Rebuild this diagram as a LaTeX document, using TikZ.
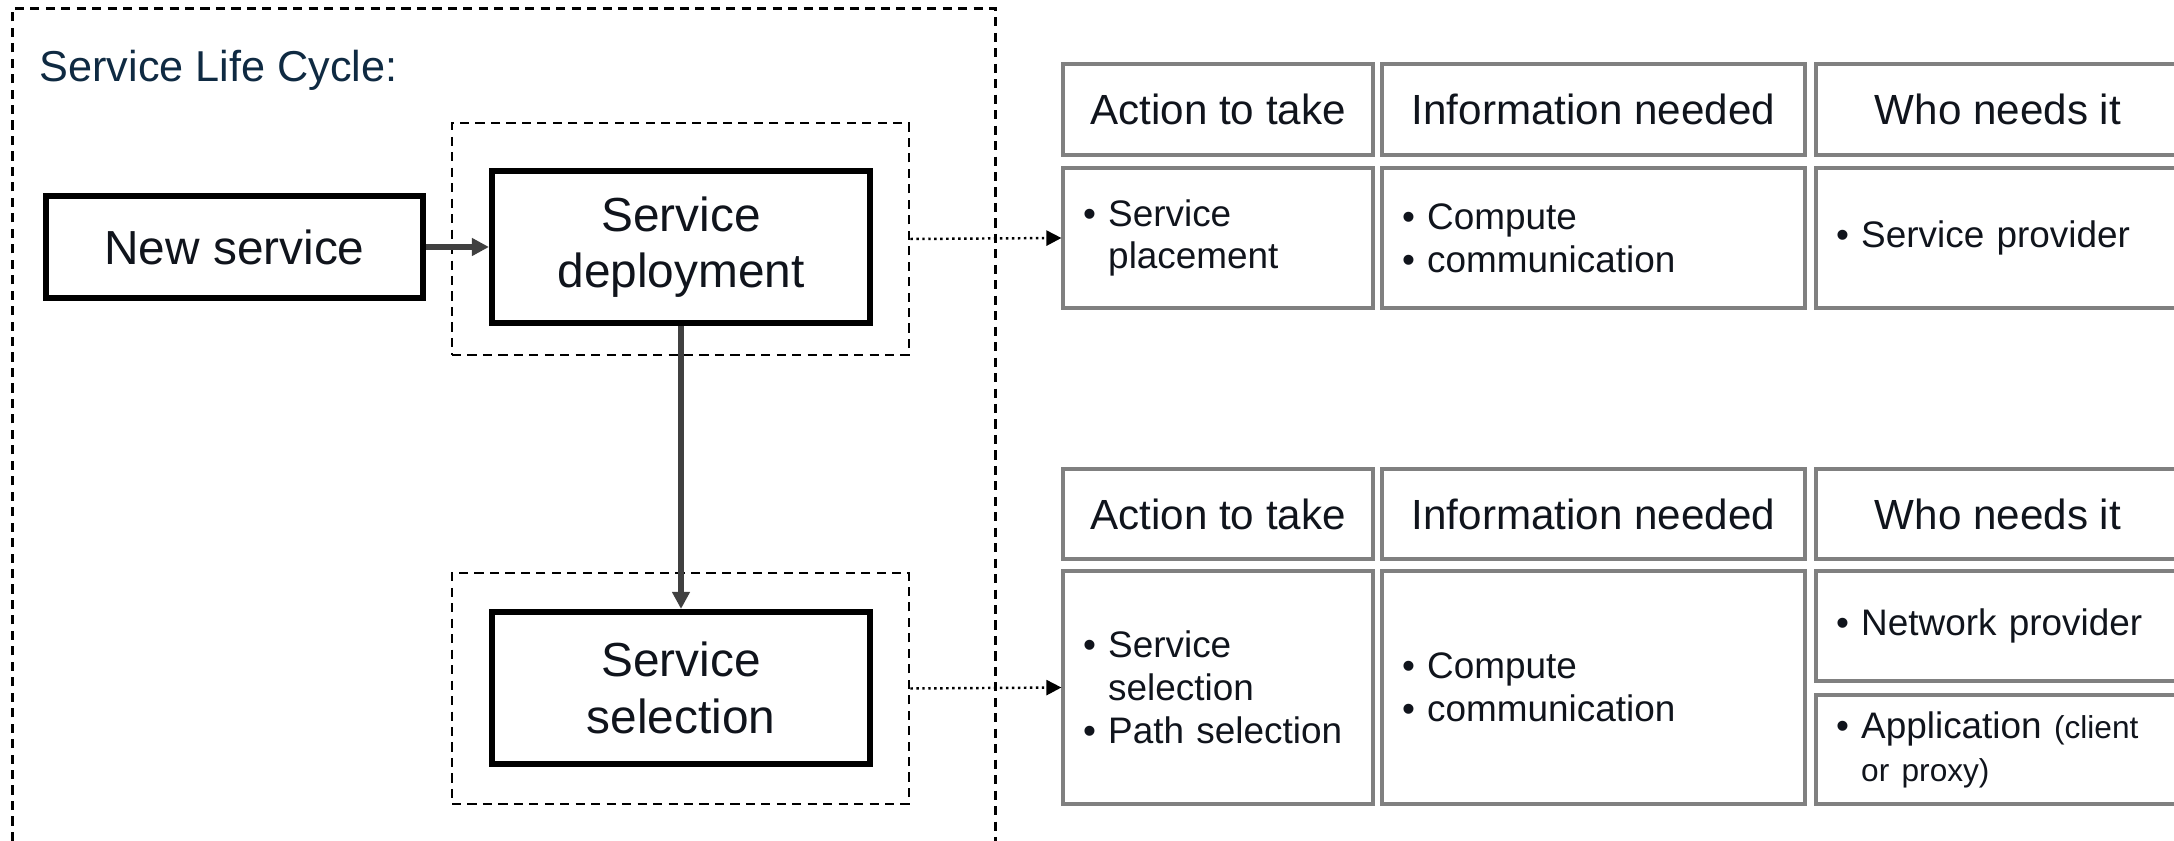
\documentclass[tikz,border=0pt]{standalone}
\usepackage{fontspec}
\setmainfont{Liberation Sans}
\usepackage{tikz}
\usetikzlibrary{arrows.meta,positioning}
\usepackage{xcolor}
\definecolor{lcnavy}{RGB}{15,42,66}
\definecolor{lcink}{RGB}{16,20,28}
\definecolor{lcgray}{RGB}{64,64,64}
\definecolor{lcgrid}{RGB}{128,128,128}
\tikzstyle{arrow} = [line width=1.5pt,-{Triangle[length=1.7mm,width=1.7mm]},color=lcgray]
\tikzstyle{link} = [densely dotted,line width=0.7pt,-{Triangle[length=1.5mm,width=1.5mm]},color=black]

\newcommand{\bul}{\textbullet\ }
\newcommand{\hang}{\phantom{\textbullet\ }}

\begin{document}
\begin{tikzpicture}[
    stage/.style={rectangle, draw=black, line width=1.6pt, fill=white, align=center, text=lcink, font=\fontsize{13.6}{16}\selectfont},
    frame/.style={rectangle, draw=black, line width=0.75pt, dash pattern=on 2.6pt off 1.8pt},
    head/.style={rectangle, draw=lcgrid, line width=0.9pt, minimum height=0.91cm, text=lcink, font=\fontsize{12}{14}\selectfont},
    cell/.style={rectangle, draw=lcgrid, line width=0.9pt, inner xsep=2mm, align=left, text=lcink, font=\fontsize{10.5}{12.2}\selectfont}]

\useasboundingbox (0,0) rectangle (21.74,-8.41);

% Life cycle frame
\draw[frame] (0.125,-8.41) |- (9.955,-0.083) -- (9.955,-8.41);
\node[anchor=west, inner sep=0pt, text=lcnavy, font=\fontsize{12.3}{14}\selectfont] (title) at (0.39,-0.70) {Service Life Cycle:};

% Stages
\node[frame, minimum width=4.57cm, minimum height=2.32cm] (depframe) at (6.805,-2.39) {};
\node[frame, minimum width=4.57cm, minimum height=2.31cm] (selframe) at (6.805,-6.885) {};

\node[stage, minimum width=3.775cm, minimum height=1.025cm] (newsvc) at (2.345,-2.47) {New service};
\node[stage, minimum width=3.785cm, minimum height=1.525cm] (deploy) at (6.81,-2.47) {Service\\deployment};
\node[stage, minimum width=3.785cm, minimum height=1.525cm] (select) at (6.81,-6.88) {Service\\selection};

\draw[arrow] (newsvc) -- (deploy);
\draw[arrow] (deploy) -- (select);

% Deployment table
\node[head, minimum width=3.10cm] (acthA) at (12.18,-1.095) {Action to take};
\node[head, minimum width=4.23cm] (infhA) at (15.935,-1.095) {Information needed};
\node[head, minimum width=3.64cm] (whohA) at (19.98,-1.095) {Who needs it};

\node[cell, text width=2.70cm, minimum height=1.40cm] (actA) at (12.18,-2.38) {\bul Service\\\hang placement};
\node[cell, text width=3.83cm, minimum height=1.40cm] (infA) at (15.935,-2.38) {\bul Compute\\\bul communication};
\node[cell, text width=3.24cm, minimum height=1.40cm] (whoA) at (19.98,-2.38) {\bul Service provider};

% Selection table
\node[head, minimum width=3.10cm, minimum height=0.90cm] (acthB) at (12.18,-5.14) {Action to take};
\node[head, minimum width=4.23cm, minimum height=0.90cm] (infhB) at (15.935,-5.14) {Information needed};
\node[head, minimum width=3.64cm, minimum height=0.90cm] (whohB) at (19.98,-5.14) {Who needs it};

\node[cell, text width=2.70cm, minimum height=2.33cm] (actB) at (12.18,-6.875) {\bul Service\\\hang selection\\\bul Path selection};
\node[cell, text width=3.83cm, minimum height=2.33cm] (infB) at (15.935,-6.875) {\bul Compute\\\bul communication};
\node[cell, text width=3.24cm, minimum height=1.10cm] (whoB) at (19.98,-6.26) {\bul Network provider};
\node[cell, text width=3.24cm, minimum height=1.09cm] (whoC) at (19.98,-7.495) {\bul Application {\fontsize{9}{11}\selectfont(client}\\\hang{\fontsize{9}{11}\selectfont or proxy)}};

% Links to tables
\draw[link] (depframe.east) -- (actA.west);
\draw[link] (selframe.east) -- (actB.west);

\end{tikzpicture}
\end{document}
